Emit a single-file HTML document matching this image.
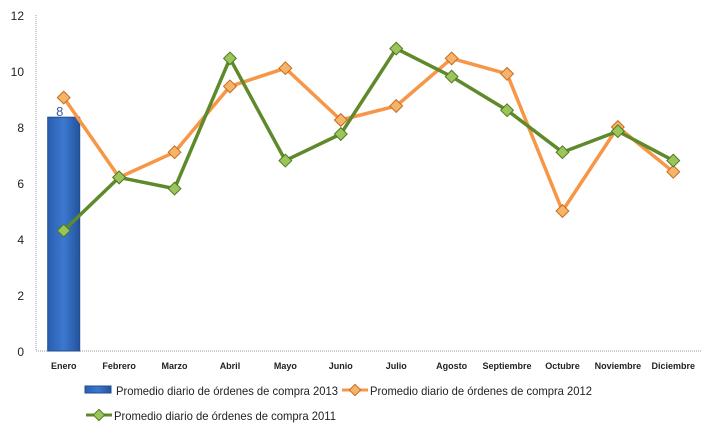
<!DOCTYPE html>
<html><head><meta charset="utf-8"><style>
body{margin:0;background:#fff;}
svg{display:block;font-family:"Liberation Sans",sans-serif;}
</style></head><body>
<svg id="chart" width="715" height="435">
<defs>
<linearGradient id="barg" x1="0" x2="1" y1="0" y2="0">
<stop offset="0" stop-color="#2a5fb0"/><stop offset="0.5" stop-color="#3c78d0"/><stop offset="1" stop-color="#24539c"/>
</linearGradient>
</defs>
<g id="axes"></g>
<g id="marks"></g>
<g id="legend">
<rect x="85" y="386" width="26" height="7" fill="url(#barg)" stroke="#1f4e8c"/>
<text x="116" y="395" font-size="12" fill="#222" textLength="222" lengthAdjust="spacingAndGlyphs">Promedio diario de órdenes de compra 2013</text>
<line x1="342" y1="390" x2="368" y2="390" stroke="#f79646" stroke-width="3"/>
<rect x="351" y="386" width="8" height="8" transform="rotate(45 355 390)" fill="#f4b46a" stroke="#c96a1e"/>
<text x="370" y="395" font-size="12" fill="#222" textLength="222" lengthAdjust="spacingAndGlyphs">Promedio diario de órdenes de compra 2012</text>
<line x1="86" y1="415" x2="112" y2="415" stroke="#5f8a2b" stroke-width="3"/>
<rect x="95" y="411" width="8" height="8" transform="rotate(45 99 415)" fill="#9bc45a" stroke="#4f7a22"/>
<text x="114" y="420" font-size="12" fill="#222" textLength="222" lengthAdjust="spacingAndGlyphs">Promedio diario de órdenes de compra 2011</text>
</g>
</svg>
<script>
const categories=["Enero","Febrero","Marzo","Abril","Mayo","Junio","Julio","Agosto","Septiembre","Octubre","Noviembre","Diciembre"];
const values2013=[8.35];
const values2012=[9.05,6.2,7.1,9.45,10.1,8.25,8.75,10.45,9.9,5.0,8.0,6.4];
const values2011=[4.3,6.2,5.8,10.45,6.8,7.75,10.8,9.8,8.6,7.1,7.85,6.8];
const yTicks=[0,2,4,6,8,10,12];
const barLabels=["8"];

const NS="http://www.w3.org/2000/svg";
const X0=36,X1=701,Y0=351,Y1=15,YMAX=12;
const band=(X1-X0)/categories.length;
const xc=i=>X0+band*(i+0.5);
const y=v=>Y0-(v/YMAX)*(Y0-Y1);
function mk(tag,attrs,parent){const e=document.createElementNS(NS,tag);for(const k in attrs)e.setAttribute(k,attrs[k]);parent.appendChild(e);return e;}
const axes=document.getElementById('axes'),marks=document.getElementById('marks');

let a=mk('line',{x1:X0,y1:Y1,x2:X0,y2:Y0,stroke:'#999','stroke-dasharray':'1,1'},axes);


a=mk('line',{x1:X0,y1:Y0,x2:X1,y2:Y0,stroke:'#999','stroke-dasharray':'1,1'},axes);


yTicks.forEach(t=>{
 const tx=mk('text',{x:X0-12,y:y(t)+5,'text-anchor':'end','font-size':12,fill:'#222'},axes);
 tx.textContent=t;
 
 
});
categories.forEach((c,i)=>{
 const tx=mk('text',{x:xc(i),y:369,'text-anchor':'middle','font-size':9,'font-weight':'bold',fill:'#222'},axes);
 tx.textContent=c;
 
 
});
values2013.forEach((v,i)=>{
 const w=32;
 const r=mk('rect',{x:xc(i)-w/2,y:y(v),width:w,height:Y0-y(v),fill:'url(#barg)',stroke:'#1f4e8c'},marks);
 
 
 const t=mk('text',{x:xc(i)-4,y:y(v)-1,'text-anchor':'middle','font-size':13,fill:'#3a5f9a'},marks);
 t.textContent=barLabels[i];
 
 
});
function series(vals,color,fill,stroke,name){
 const pts=vals.map((v,i)=>xc(i)+','+y(v)).join(' ');
 const pl=mk('polyline',{points:pts,fill:'none',stroke:color,'stroke-width':3.5,'stroke-linejoin':'round'},marks);
 
 
 vals.forEach((v,i)=>{
  const cx=xc(i),cy=y(v);
  const m=mk('rect',{x:cx-4.5,y:cy-4.5,width:9,height:9,transform:`rotate(45 ${cx} ${cy})`,fill:fill,stroke:stroke},marks);
  
  
 });
}
series(values2012,'#f79646','#f4b46a','#c96a1e','2012');
series(values2011,'#5f8a2b','#9bc45a','#4f7a22','2011');
</script>
</body></html>
